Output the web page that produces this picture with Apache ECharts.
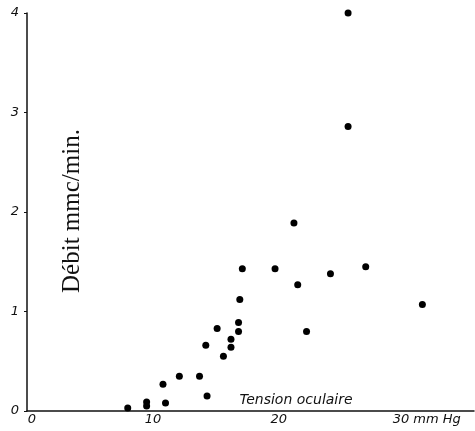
<!DOCTYPE html>
<html>
<head>
<meta charset="utf-8">
<script src="https://cdn.jsdelivr.net/npm/echarts@6/dist/echarts.min.js"></script>
<style>
html, body { margin: 0; padding: 0; background: #fff; }
#chart { width: 475px; height: 431px; }
</style>
</head>
<body>
<div id="chart"></div>
<script>
// points: tension (mm Hg) / débit (mmc/min)
var tension = [8.0, 9.5, 9.5, 11.0, 10.8, 12.1, 13.7, 14.3, 14.2, 15.1, 15.6, 16.2, 16.2,
	16.8, 16.8, 16.9, 17.1, 19.7, 21.5, 21.2, 22.2, 24.1, 25.5, 25.5, 26.9, 31.4];
var debit = [0.03, 0.09, 0.05, 0.08, 0.27, 0.35, 0.35, 0.15, 0.66, 0.83, 0.55, 0.72, 0.64,
	0.89, 0.80, 1.12, 1.43, 1.43, 1.27, 1.89, 0.80, 1.38, 4.0, 2.86, 1.45, 1.07];
var xTicks = [0, 10, 20, 30];
var yTicks = [0, 1, 2, 3, 4];

var pts = [];
for (var i = 0; i < tension.length; i++) {
	pts.push([tension[i], debit[i]]);
}

var labelFont = 'DejaVu Sans';
var ink = '#111';
var myChart = echarts.init(document.getElementById('chart'));
var option = {
	backgroundColor: '#fff',
	animation: false,
	grid: { left: 27, right: 1, top: 13, bottom: 20 },
	xAxis: {
		type: 'value',
		min: 0,
		max: 35.5,
		interval: 10,
		splitLine: { show: false },
		axisTick: { show: false },
		axisLine: { lineStyle: { color: ink, width: 1.5 } },
		axisLabel: {
			margin: 2,
			showMaxLabel: false,
			color: ink,
			fontStyle: 'italic',
			fontFamily: labelFont,
			fontSize: 13,
			formatter: function (v) {
				if (xTicks.indexOf(v) < 0) return '';
				if (v === 0) return '{s0| }{t|0}';
				if (v === 30) return '{s30| }{t|30 mm Hg}';
				return '{t|' + v + '}';
			},
			rich: {
				t: { fontStyle: 'italic', fontFamily: labelFont, fontSize: 13, color: ink },
				s0: { width: 10 },
				s30: { width: 44 }
			}
		}
	},
	yAxis: {
		type: 'value',
		min: 0,
		max: 4,
		interval: 1,
		splitLine: { show: false },
		axisTick: { show: true, length: 3, lineStyle: { color: ink } },
		axisLine: { show: true, lineStyle: { color: ink, width: 1.5 } },
		axisLabel: {
			margin: 8,
			color: ink,
			fontStyle: 'italic',
			fontFamily: labelFont,
			fontSize: 13,
			formatter: function (v) {
				return yTicks.indexOf(v) < 0 ? '' : String(v);
			}
		}
	},
	graphic: [
		{
			type: 'text',
			x: 72, y: 211,
			rotation: Math.PI / 2,
			style: {
				text: 'Débit mmc/min.',
				fontFamily: 'Liberation Serif',
				fontSize: 25,
				fill: ink,
				align: 'center',
				verticalAlign: 'middle'
			}
		},
		{
			type: 'text',
			x: 296, y: 400,
			style: {
				text: 'Tension oculaire',
				fontFamily: labelFont,
				fontStyle: 'italic',
				fontSize: 14,
				fill: ink,
				align: 'center',
				verticalAlign: 'middle'
			}
		}
	],
	series: [
		{
			type: 'scatter',
			data: pts,
			symbol: 'circle',
			symbolSize: 7,
			itemStyle: { color: '#000', opacity: 1 }
		}
	]
};
myChart.setOption(option);
</script>
</body>
</html>
